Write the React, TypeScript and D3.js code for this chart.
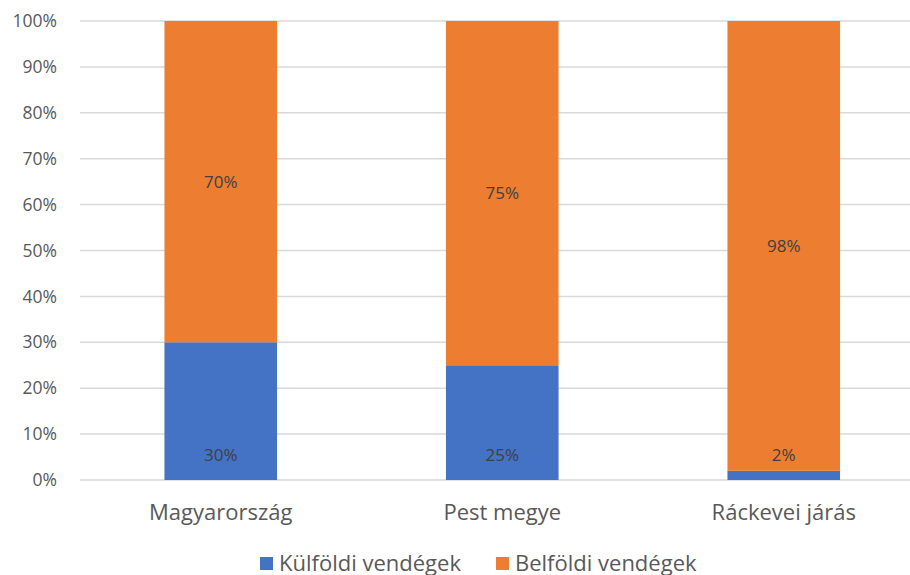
import React from "react";
import * as d3 from "d3";

const categories = ["Magyarország", "Pest megye", "Ráckevei járás"];
const kulfoldi = [30, 25, 2];
const belfoldi = [70, 75, 98];
const seriesNames = ["Külföldi vendégek", "Belföldi vendégek"];
const yTicks = [0, 10, 20, 30, 40, 50, 60, 70, 80, 90, 100];

const W = 910;
const H = 575;
const FONT = "'Open Sans', sans-serif";
const TEXT = "#595959";
const BLUE = "#4472C4";
const ORANGE = "#ED7D31";

export default function App() {
  const x = d3.scaleBand<string>().domain(categories).range([80, 924.5]).paddingInner(0.6).paddingOuter(0.3);
  const y = d3.scaleLinear().domain([0, 100]).range([480, 21]);
  const bw = x.bandwidth();
  return (
    <svg width={W} height={H} style={{ position: "absolute", left: 0, top: 0, background: "#fff" }} fontFamily={FONT}>
      {yTicks.map((t) => (
        <g key={t}>
          <line x1={80} x2={910} y1={y(t)} y2={y(t)} stroke="#D9D9D9" strokeWidth={1.5} />
          <text x={57} y={y(t)} dy="0.35em" textAnchor="end" fontSize={17.5} fill={TEXT}>{t}%</text>
        </g>
      ))}
      {categories.map((c, i) => {
        const x0 = x(c)!;
        const cx = x0 + bw / 2;
        return (
          <g key={c}>
            <rect x={x0} y={y(kulfoldi[i])} width={bw} height={y(0) - y(kulfoldi[i])} fill={BLUE} />
            <rect x={x0} y={y(kulfoldi[i] + belfoldi[i])} width={bw} height={y(kulfoldi[i]) - y(kulfoldi[i] + belfoldi[i])} fill={ORANGE} />
            <text x={cx} y={y(0) - 25} dy="0.35em" textAnchor="middle" fontSize={17} fill="#404040">{kulfoldi[i]}%</text>
            <text x={cx} y={(y(kulfoldi[i]) + y(kulfoldi[i] + belfoldi[i])) / 2} dy="0.35em" textAnchor="middle" fontSize={17} fill="#404040">{belfoldi[i]}%</text>
            <text x={cx} y={512} dy="0.35em" textAnchor="middle" fontSize={22} fill={TEXT}>{c}</text>
          </g>
        );
      })}
      <g>
        <rect x={260} y={557} width={13} height={13} fill={BLUE} />
        <text x={279} y={563} dy="0.35em" fontSize={22} fill={TEXT}>{seriesNames[0]}</text>
        <rect x={496} y={557} width={13} height={13} fill={ORANGE} />
        <text x={515} y={563} dy="0.35em" fontSize={22} fill={TEXT}>{seriesNames[1]}</text>
      </g>
    </svg>
  );
}
